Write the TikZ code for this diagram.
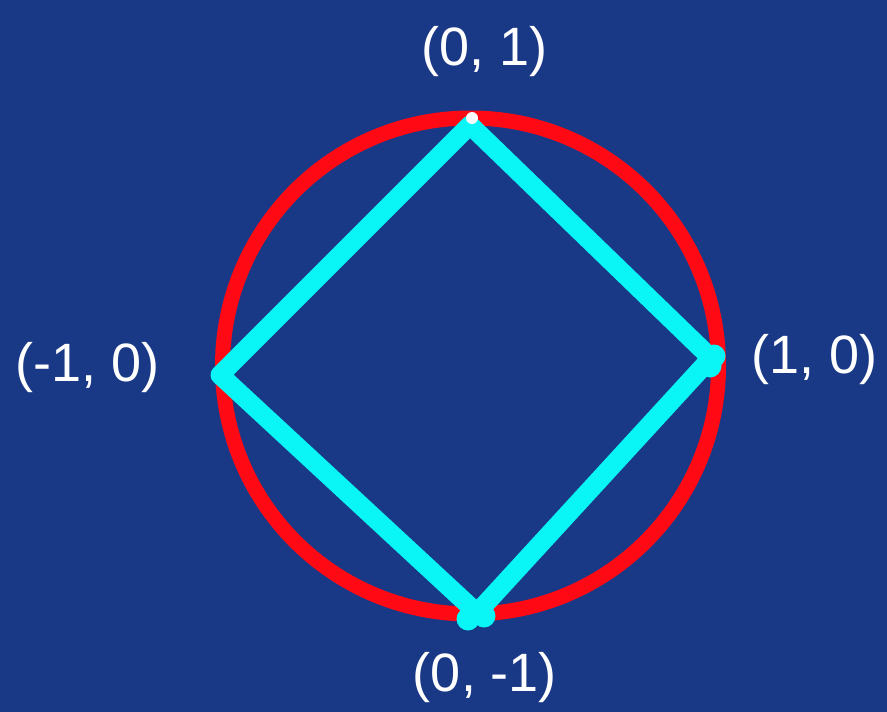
\documentclass[tikz,border=0pt]{standalone}
\usepackage{fontspec}
\setmainfont{Liberation Sans}
\usetikzlibrary{positioning}
\definecolor{bgblue}{RGB}{25,56,134}
\definecolor{ringred}{RGB}{255,10,20}
\definecolor{edgecyan}{RGB}{10,245,245}
\tikzset{
ring/.style={draw=ringred,line width=15pt},
edge/.style={draw=edgecyan,line width=19pt,line cap=round,line join=round},
dot/.style={circle,fill=edgecyan,inner sep=0pt,minimum size=23pt},
lbl/.style={text=white,font=\fontsize{54}{54}\selectfont}
}
\begin{document}
\begin{tikzpicture}[x=1pt,y=-1pt]
\fill[bgblue](0,0)rectangle(887,712);
\useasboundingbox(0,0)rectangle(887,712);
\node[inner sep=0pt](o) at (470.5,366){};
\draw[ring](o)circle[radius=248];
\coordinate(top) at (470,125);\coordinate(right) at (711,358);
\coordinate(bot) at (477,613);\coordinate(left) at (220,375);
\draw[edge](top)--(right)--(bot)--(left)--cycle;
\node[dot](d1) at (714,356){};\node[dot](d2) at (710,366){};
\node[dot](d3) at (468,619){};\node[dot](d4) at (484,616){};
\fill[white](472,118)circle[radius=6];
\node[lbl](t) at (485,52){(0, 1)};
\node[lbl](r) at (815,360){(1, 0)};
\node[lbl](l) at (88,368){(-1, 0)};
\node[lbl](b) at (485,678){(0, -1)};
\end{tikzpicture}
\end{document}
